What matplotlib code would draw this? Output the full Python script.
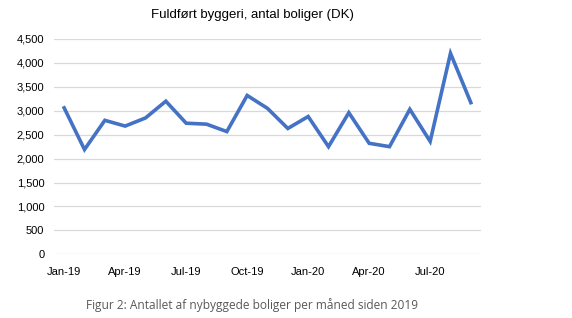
import matplotlib
matplotlib.use("Agg")
import matplotlib.pyplot as plt
from matplotlib.ticker import FuncFormatter

months = ["Jan-19", "Feb-19", "Mar-19", "Apr-19", "May-19", "Jun-19", "Jul-19",
          "Aug-19", "Sep-19", "Oct-19", "Nov-19", "Dec-19", "Jan-20", "Feb-20",
          "Mar-20", "Apr-20", "May-20", "Jun-20", "Jul-20", "Aug-20", "Sep-20"]
values = [3060, 2190, 2800, 2680, 2850, 3200, 2740, 2720, 2565, 3320, 3050,
          2630, 2880, 2250, 2960, 2320, 2250, 3030, 2360, 4200, 3170]
title = "Fuldført byggeri, antal boliger (DK)"
caption = "Figur 2: Antallet af nybyggede boliger per måned siden 2019"

fig = plt.figure(figsize=(5.72, 3.18), dpi=100)
ax = fig.add_axes([54/572, 1-254.3/318, (481-54)/572, (254.3-39)/318])
x = list(range(len(months)))
ax.plot(x, values, color="#4472C4", lw=2.6, solid_joinstyle="miter")
ax.set_xlim(-0.5, len(months)-0.5)
ax.set_ylim(0, 4500)
ax.set_yticks(range(0, 4501, 500))
ax.yaxis.set_major_formatter(FuncFormatter(lambda v, p: f"{int(v):,}"))
ax.set_xticks(x[::3])
ax.set_xticklabels(months[::3])
for s in ax.spines.values():
    s.set_visible(False)
ax.grid(axis="y", color="#d9d9d9", lw=0.9)
ax.set_axisbelow(True)
ax.tick_params(length=0, labelsize=8, colors="#000000", pad=7)
for lab in ax.get_xticklabels() + ax.get_yticklabels():
    lab.set_family("Liberation Sans")
ax.tick_params(axis="x", pad=9)
fig.text(252/572, 1-15/318, title, ha="center", va="center",
         fontsize=9.5, family="Liberation Sans")
fig.text(252/572, 1-305/318, caption, ha="center", va="center",
         fontsize=8.6, family="Open Sans", color="#595959")
fig.savefig("out.png", dpi=100)
